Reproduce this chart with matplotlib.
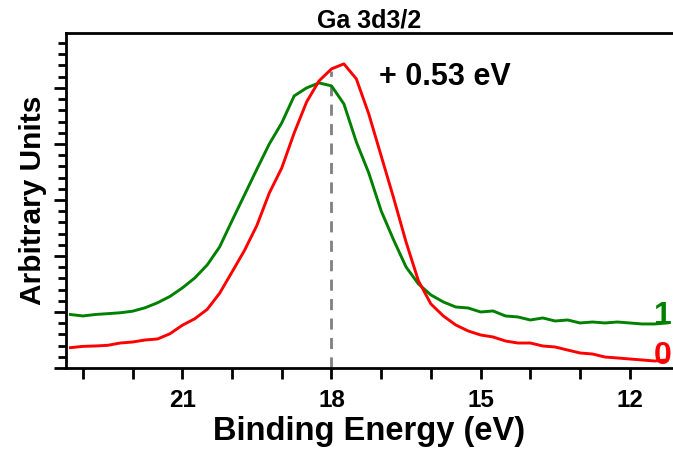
import numpy as np
import matplotlib.pyplot as plt
from matplotlib.ticker import MultipleLocator

plt.rcParams['font.family'] = ['Liberation Sans', 'DejaVu Sans']
plt.rcParams['font.weight'] = 'bold'

# binding energy grid (eV)
energy = [23.25, 23.0, 22.75, 22.5, 22.25, 22.0, 21.75, 21.5, 21.25, 21.0,
          20.75, 20.5, 20.25, 20.0, 19.75, 19.5, 19.25, 19.0, 18.75, 18.5,
          18.25, 18.0, 17.75, 17.5, 17.25, 17.0, 16.75, 16.5, 16.25, 16.0,
          15.75, 15.5, 15.25, 15.0, 14.75, 14.5, 14.25, 14.0, 13.75, 13.5,
          13.25, 13.0, 12.75, 12.5, 12.25, 12.0, 11.75, 11.5, 11.25]

# spectrum "1" (green)
green = [0.955, 0.929, 0.955, 0.970, 0.986, 1.014, 1.075, 1.164, 1.277, 1.429,
         1.607, 1.839, 2.161, 2.630, 3.089, 3.550, 4.000, 4.375, 4.857, 5.000,
         5.089, 5.036, 4.714, 4.036, 3.482, 2.804, 2.286, 1.804, 1.500, 1.304,
         1.179, 1.089, 1.071, 1.000, 1.018, 0.929, 0.911, 0.857, 0.893, 0.839,
         0.857, 0.804, 0.821, 0.804, 0.821, 0.804, 0.786, 0.786, 0.804]

# spectrum "0" (red)
red = [0.363, 0.386, 0.393, 0.405, 0.446, 0.464, 0.500, 0.518, 0.611, 0.763,
       0.879, 1.046, 1.334, 1.714, 2.098, 2.546, 3.125, 3.571, 4.196, 4.750,
       5.125, 5.339, 5.429, 5.161, 4.536, 3.786, 3.036, 2.250, 1.554, 1.143,
       0.929, 0.768, 0.661, 0.589, 0.554, 0.482, 0.446, 0.446, 0.393, 0.375,
       0.321, 0.268, 0.250, 0.196, 0.179, 0.161, 0.143, 0.125, 0.143]

ref_energy = 18.0
shift_label = "+ 0.53 eV"

fig = plt.figure(figsize=(6.73, 4.55), dpi=100)
ax = fig.add_axes([66 / 673, 87 / 455, 1 - 66 / 673, 335 / 455])

ax.plot([ref_energy, ref_energy], [0, 5.3], color='#808080', lw=2,
        linestyle=(0, (4, 3)), zorder=1)
ax.plot(energy, green, color='#008000', lw=2.1, zorder=2)
ax.plot(energy, red, color='#ff0000', lw=2.1, zorder=3)

ax.set_xlim(23.34, 11.13)
ax.set_ylim(0, 5.98)

# curve labels at the right edge, kept just inside the figure
ax.text(11.16, 0.93, '1', color='#008000', fontsize=23, fontweight='bold',
        ha='right', va='center', clip_on=False)
ax.text(11.16, 0.22, '0', color='#ff0000', fontsize=23, fontweight='bold',
        ha='right', va='center', clip_on=False)
ax.text(17.05, 5.2, shift_label, fontsize=22, fontweight='bold',
        ha='left', va='center')

ax.xaxis.set_major_locator(MultipleLocator(3))
ax.xaxis.set_minor_locator(MultipleLocator(1))
ax.yaxis.set_major_locator(MultipleLocator(1))
ax.yaxis.set_minor_locator(MultipleLocator(0.2))
ax.tick_params(axis='x', which='both', direction='out', length=8, width=2,
               labelsize=17.5, pad=7)
ax.tick_params(axis='y', which='major', direction='out', length=9, width=2,
               labelleft=False)
ax.tick_params(axis='y', which='minor', direction='out', length=6, width=2)
for lbl in ax.get_xticklabels():
    lbl.set_fontweight('bold')

ax.spines['right'].set_visible(False)
for side in ['left', 'bottom', 'top']:
    ax.spines[side].set_linewidth(2)

ax.set_xlabel('Binding Energy (eV)', fontsize=23.5, fontweight='bold', labelpad=3)
ax.set_ylabel('Arbitrary Units', fontsize=21.5, fontweight='bold', labelpad=4)
ax.set_title('Ga 3d3/2', fontsize=18, fontweight='bold', pad=4)

fig.savefig('out.png', dpi=100)
